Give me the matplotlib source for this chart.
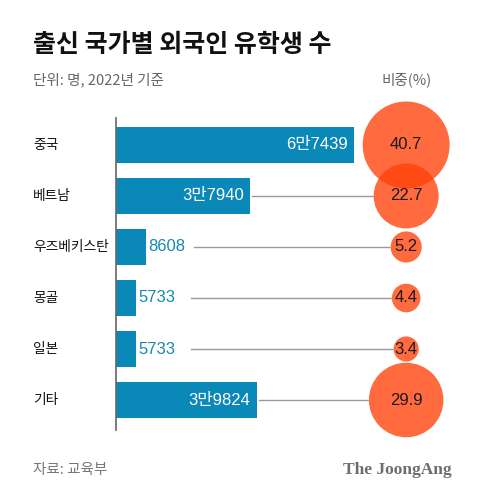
import matplotlib
matplotlib.use("Agg")
import matplotlib.pyplot as plt
from matplotlib.transforms import blended_transform_factory

plt.rcParams['font.family'] = ['Noto Sans CJK KR', 'DejaVu Sans']

countries = ['중국', '베트남', '우즈베키스탄', '몽골', '일본', '기타']
students = [67439, 37940, 8608, 5733, 5733, 39824]
labels = ['6만7439', '3만7940', '8608', '5733', '5733', '3만9824']
shares = [40.7, 22.7, 5.2, 4.4, 3.4, 29.9]

bar_c = '#0A89B9'
dot_c = '#FF4108'
num_font = ['Liberation Sans', 'Noto Sans CJK KR']
W, H = 480, 499

fig = plt.figure(figsize=(W / 100, H / 100), dpi=100)
# axes: x=0 at px 116, 67439 at px 354; rows at px 145 + 51*i
ax = fig.add_axes([116 / W, (H - 430) / H, 353 / W, 312 / H])
ax.set_xlim(0, 100000)
ax.set_ylim(5.588, -0.529)
for s in ['top', 'right', 'bottom']:
    ax.spines[s].set_visible(False)
ax.spines['left'].set_color('#666666')
ax.spines['left'].set_linewidth(1.2)
ax.set_xticks([])
ax.set_yticks([])
ax.patch.set_alpha(0)

y = list(range(len(countries)))
cx = 82200
ax.barh(y, students, height=0.706, color=bar_c, zorder=2)

# connector lines
for i, v in enumerate(students):
    if i == 0:
        continue
    start = v + 600 if v > 20000 else v + 15500 if v < 7000 else v + 13500
    ax.plot([start, cx], [i, i], color='#9a9a9a', lw=1, zorder=1)

# value labels
for i, v in enumerate(students):
    if v > 20000:
        ax.text(v - 1800, i, labels[i], ha='right', va='center', color='white', fontsize=12,
                family=num_font, zorder=3)
    else:
        ax.text(v + 600, i, labels[i], ha='left', va='center', color='#1A88B0', fontsize=12,
                family=num_font, zorder=3)

# share bubbles (white underlay hides the connector lines)
sizes = [v * 96.3 for v in shares]
ax.scatter([cx] * len(shares), y, s=sizes, color='white', linewidths=0, zorder=3.5, clip_on=False)
ax.scatter([cx] * len(shares), y, s=sizes, color=dot_c, alpha=0.78,
           linewidths=0, zorder=4, clip_on=False)
for i, v in enumerate(shares):
    ax.text(cx, i, f'{v}', ha='center', va='center', color='#1a1a1a', fontsize=12,
            family=num_font, zorder=5)

# category labels
tr = blended_transform_factory(fig.transFigure, ax.transData)
for i, c in enumerate(countries):
    ax.text(33 / W, i, c, transform=tr, ha='left', va='center', fontsize=9.9, color='#111111')

fig.text(33 / W, 1 - 45 / H, '출신 국가별 외국인 유학생 수', fontsize=18, fontweight='bold',
         va='center', ha='left', color='#111111')
fig.text(33 / W, 1 - 80 / H, '단위: 명, 2022년 기준', fontsize=10.5, va='center', ha='left', color='#666666')
fig.text(432 / W, 1 - 80 / H, '비중(%)', fontsize=10.5, va='center', ha='right', color='#666666')
fig.text(33 / W, 1 - 470 / H, '자료: 교육부', fontsize=10.5, va='center', ha='left', color='#777777')
fig.text(452 / W, 1 - 470 / H, 'The JoongAng', fontsize=12.5, fontweight='bold', va='center', ha='right',
         color='#6d6d6d', family='Liberation Serif')

fig.savefig('out.png', dpi=100)
